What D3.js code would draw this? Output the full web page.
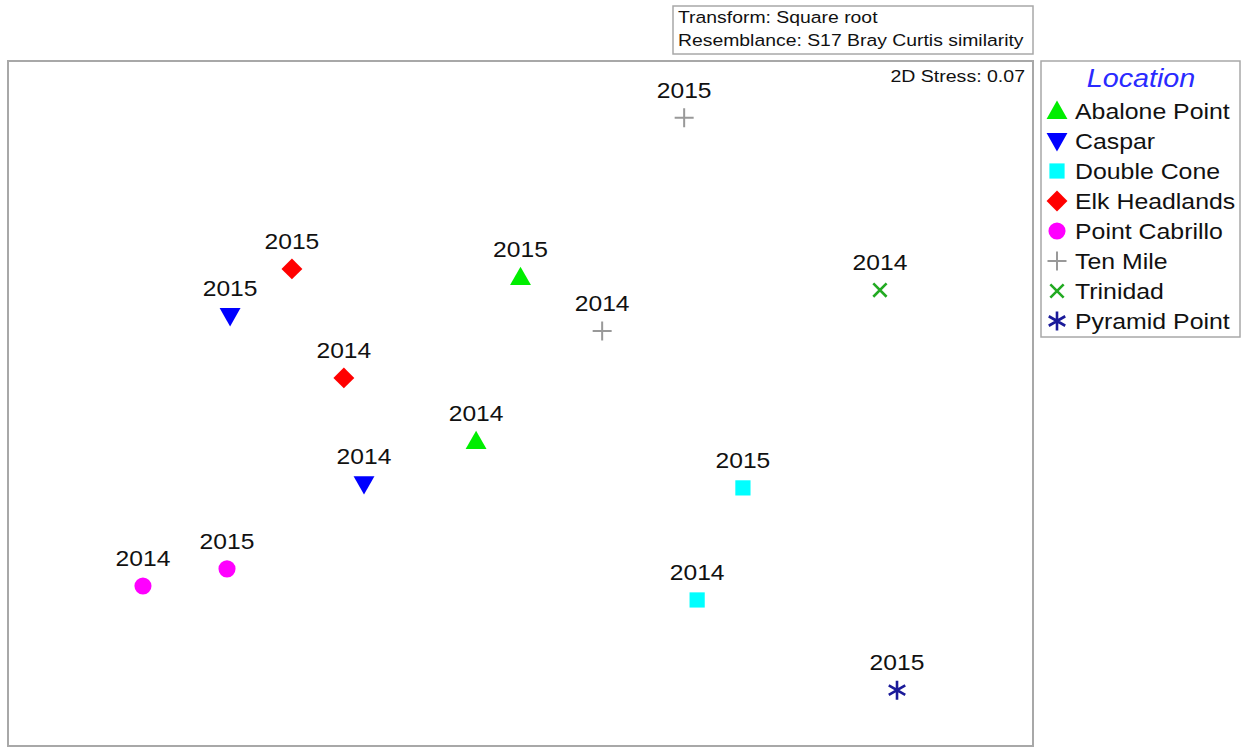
<!DOCTYPE html>
<html><head><meta charset="utf-8">
<script src="https://cdn.jsdelivr.net/npm/d3@7"></script>
<style>body{margin:0;background:#fff;} text{font-family:"Liberation Sans",Arial,sans-serif;}</style>
</head><body>
<svg id="c" width="1242" height="747"></svg>
<script>
// Data: MDS coordinates
const locations = ["Abalone Point","Caspar","Double Cone","Elk Headlands","Point Cabrillo","Ten Mile","Trinidad","Pyramid Point"];
const pointLocation = ["Ten Mile","Trinidad","Abalone Point","Ten Mile","Elk Headlands","Caspar","Elk Headlands","Abalone Point","Caspar","Double Cone","Point Cabrillo","Point Cabrillo","Double Cone","Pyramid Point"];
const pointYear = ["2015","2014","2015","2014","2015","2015","2014","2014","2014","2015","2014","2015","2014","2015"];
const mdsX = [0.479,1.052,0.000,0.239,-0.669,-0.850,-0.517,-0.130,-0.458,0.651,-1.105,-0.859,0.517,1.102];
const mdsY = [0.836,0.332,0.370,0.212,0.394,0.256,0.075,-0.110,-0.236,-0.247,-0.534,-0.484,-0.575,-0.839];
const stressText = "2D Stress: 0.07";
const infoLines = ["Transform: Square root","Resemblance: S17 Bray Curtis similarity"];
const legendTitle = "Location";

const style = {
  "Abalone Point": {shape:"triUp", color:"#00ee00"},
  "Caspar": {shape:"triDown", color:"#0000ff"},
  "Double Cone": {shape:"square", color:"#00ffff"},
  "Elk Headlands": {shape:"diamond", color:"#ff0000"},
  "Point Cabrillo": {shape:"circle", color:"#ff00ff"},
  "Ten Mile": {shape:"plus", color:"#999999"},
  "Trinidad": {shape:"cross", color:"#22aa22"},
  "Pyramid Point": {shape:"star", color:"#1a1a99"}
};

const svg = d3.select("#c");
const frame = {x0:8, x1:1033, y0:61, y1:746};
const x = d3.scaleLinear().domain([-1.5,1.5]).range([frame.x0, frame.x1]);
const yHalf = (frame.y1-frame.y0)/2/((frame.x1-frame.x0)/3);
const y = d3.scaleLinear().domain([-yHalf,yHalf]).range([frame.y1, frame.y0]);

function addText(tx, ty, str, size, anchor, sx, extra){
  const t = svg.append("text").attr("transform",`translate(${tx},${ty}) scale(${sx},1)`)
    .attr("font-size",size).attr("text-anchor",anchor||"start").attr("fill","#111").text(str);
  if(extra) extra(t);
  return t;
}

// frames
svg.append("rect").attr("x",frame.x0).attr("y",frame.y0).attr("width",frame.x1-frame.x0).attr("height",frame.y1-frame.y0)
  .attr("fill","none").attr("stroke","#a8a8a8").attr("stroke-width",2);
svg.append("rect").attr("x",673).attr("y",6).attr("width",360).attr("height",48)
  .attr("fill","none").attr("stroke","#a8a8a8").attr("stroke-width",1.5);
infoLines.forEach((t,i)=>addText(678, 23+i*23, t, 17, "start", 1.14));
addText(1025, 82, stressText, 17, "end", 1.15);

function drawSymbol(g, shape, color, s){
  if(shape==="triUp") g.append("path").attr("d",`M0,${-s*0.55}L${s*0.55},${s*0.42}L${-s*0.55},${s*0.42}Z`).attr("fill",color);
  else if(shape==="triDown") g.append("path").attr("d",`M0,${s*0.55}L${s*0.55},${-s*0.42}L${-s*0.55},${-s*0.42}Z`).attr("fill",color);
  else if(shape==="square") g.append("rect").attr("x",-s*0.4).attr("y",-s*0.4).attr("width",s*0.8).attr("height",s*0.8).attr("fill",color);
  else if(shape==="diamond") g.append("path").attr("d",`M0,${-s*0.55}L${s*0.55},0L0,${s*0.55}L${-s*0.55},0Z`).attr("fill",color);
  else if(shape==="circle") g.append("circle").attr("r",s*0.45).attr("fill",color);
  else if(shape==="plus") g.append("path").attr("d",`M${-s*0.5},0H${s*0.5}M0,${-s*0.5}V${s*0.5}`).attr("stroke",color).attr("stroke-width",2).attr("fill","none");
  else if(shape==="cross") g.append("path").attr("d",`M${-s*0.35},${-s*0.35}L${s*0.35},${s*0.35}M${s*0.35},${-s*0.35}L${-s*0.35},${s*0.35}`).attr("stroke",color).attr("stroke-width",2.6).attr("fill","none");
  else if(shape==="star"){
    const r=s*0.5; let d="";
    [90,30,150].forEach(a=>{const rad=a*Math.PI/180; d+=`M${r*Math.cos(rad)},${-r*Math.sin(rad)}L${-r*Math.cos(rad)},${r*Math.sin(rad)}`;});
    g.append("path").attr("d",d).attr("stroke",color).attr("stroke-width",2.6).attr("fill","none");
  }
}

const pts = mdsX.map((v,i)=>({x:v,y:mdsY[i],loc:pointLocation[i],year:pointYear[i]}));
pts.forEach(p=>{
  const g = svg.append("g").attr("transform",`translate(${x(p.x)},${y(p.y)})`);
  drawSymbol(g, style[p.loc].shape, style[p.loc].color, 19);
  addText(x(p.x), y(p.y)-20, p.year, 22, "middle", 1.12);
});

// legend
svg.append("rect").attr("x",1041).attr("y",61).attr("width",199).attr("height",276)
  .attr("fill","none").attr("stroke","#a8a8a8").attr("stroke-width",1.5);
addText(1141, 87, legendTitle, 25, "middle", 1.15, t=>t.attr("font-style","italic").attr("fill","#2a2aff"));
locations.forEach((l,i)=>{
  const cy = 111+i*30;
  const g = svg.append("g").attr("transform",`translate(1057,${cy})`);
  drawSymbol(g, style[l].shape, style[l].color, 19);
  addText(1075, cy+8, l, 22, "start", 1.13);
});
</script>
</body></html>
